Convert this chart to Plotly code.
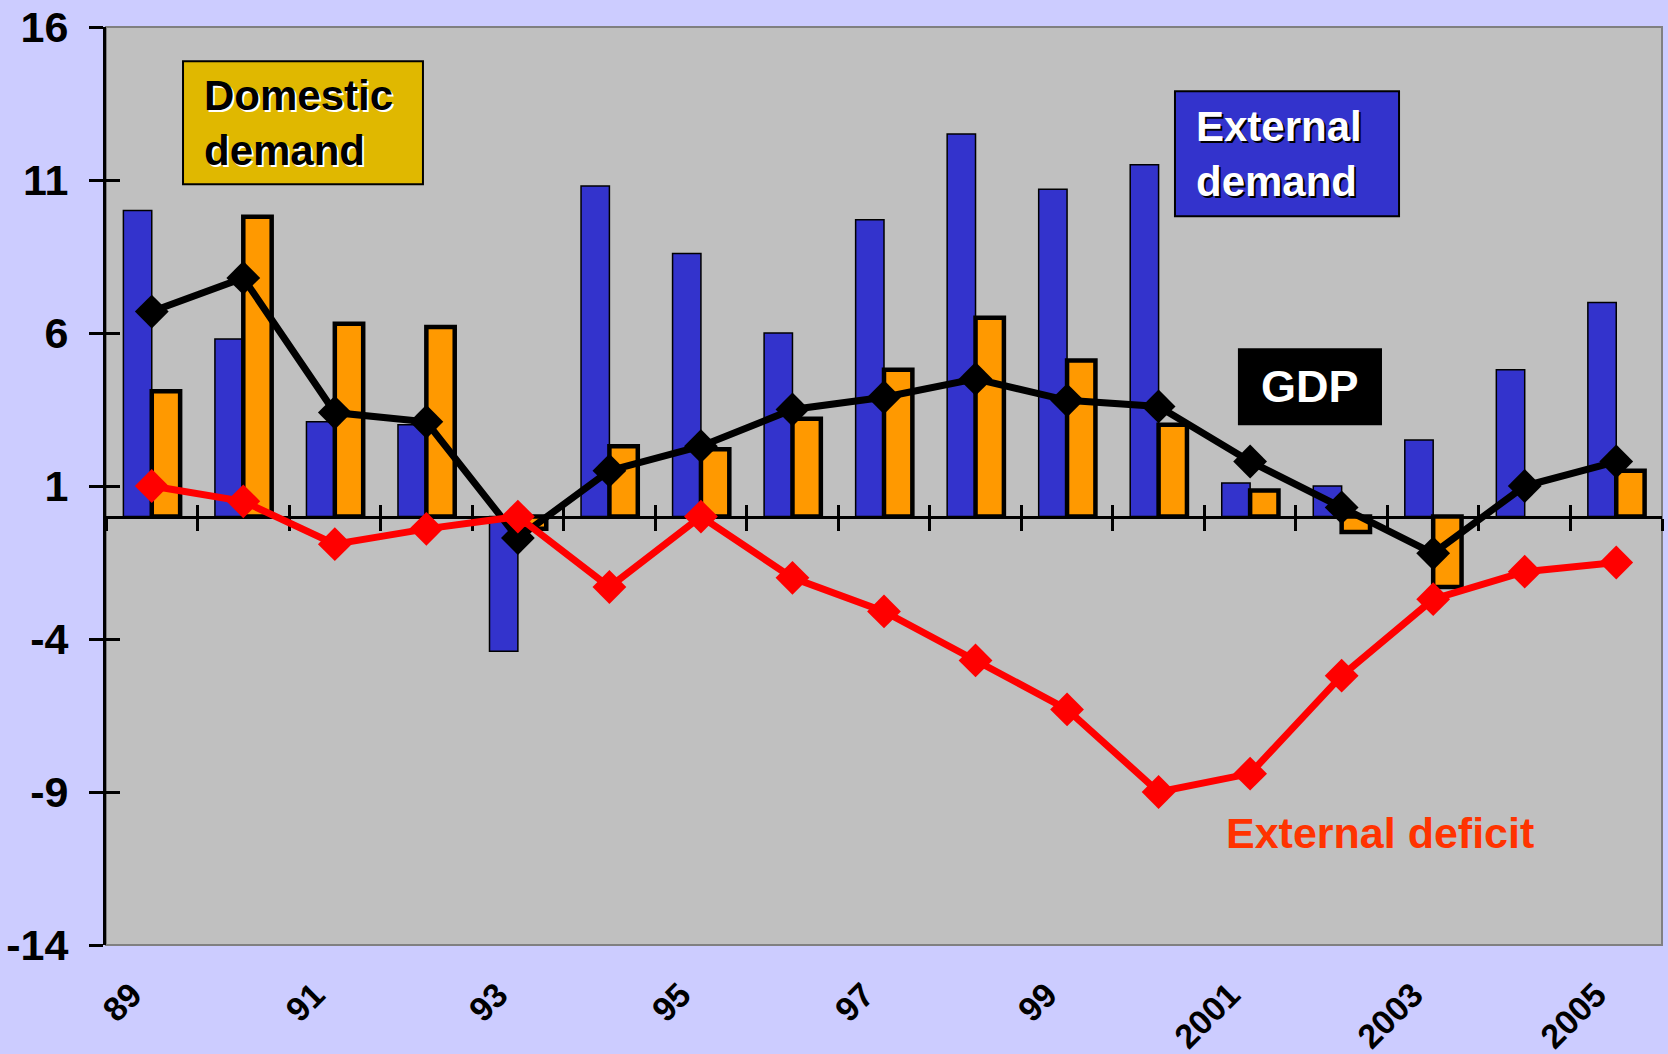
import plotly.graph_objects as go

# Years on the category axis (labels shown every other year)
years = ["89", "90", "91", "92", "93", "94", "95", "96", "97", "98", "99",
         "2000", "2001", "2002", "2003", "2004", "2005"]
year_labels = years[::2]

# Growth contributions, %
external_demand = [10.0, 5.8, 3.1, 3.0, -4.4, 10.8, 8.6, 6.0, 9.7, 12.5, 10.7,
                   11.5, 1.1, 1.0, 2.5, 4.8, 7.0]
domestic_demand = [4.1, 9.8, 6.3, 6.2, -0.4, 2.3, 2.2, 3.2, 4.8, 6.5, 5.1,
                   3.0, 0.85, -0.5, -2.3, None, 1.5]
gdp = [6.7, 7.8, 3.4, 3.1, -0.7, 1.5, 2.3, 3.5, 3.9, 4.5, 3.8,
       3.6, 1.8, 0.3, -1.2, 1.0, 1.8]
external_deficit = [1.0, 0.5, -0.9, -0.4, 0.0, -2.3, 0.0, -2.0, -3.1, -4.7, -6.3,
                    -9.0, -8.4, -5.2, -2.7, -1.8, -1.5]

y_ticks = [-14, -9, -4, 1, 6, 11, 16]
y_tick_text = ["-14", "-9", "-4", "1", "6", "11", "16"]
y_range = [-14, 16]

FONT = "Arial, Liberation Sans, sans-serif"
BLUE = "#3333CC"
ORANGE = "#FF9900"
GOLD = "#E0B800"
RED = "#FF0000"

fig = go.Figure()

fig.add_trace(go.Bar(
    x=years, y=external_demand, name="External demand",
    marker=dict(color=BLUE, line=dict(color="black", width=1.5)),
))
fig.add_trace(go.Bar(
    x=years, y=domestic_demand, name="Domestic demand",
    marker=dict(color=ORANGE, line=dict(color="black", width=4.5)),
))
fig.add_trace(go.Scatter(
    x=years, y=gdp, name="GDP", mode="lines+markers",
    line=dict(color="black", width=7),
    marker=dict(symbol="diamond", size=26, color="black"),
))
fig.add_trace(go.Scatter(
    x=years, y=external_deficit, name="External deficit", mode="lines+markers",
    line=dict(color=RED, width=7),
    marker=dict(symbol="diamond", size=26, color=RED),
))

# empty helper traces so the overlay axes (crossing tick marks) get drawn
fig.add_trace(go.Scatter(x=[], y=[], xaxis="x2", yaxis="y", showlegend=False, hoverinfo="skip"))
fig.add_trace(go.Scatter(x=[], y=[], xaxis="x3", yaxis="y", showlegend=False, hoverinfo="skip"))
fig.add_trace(go.Scatter(x=[], y=[], xaxis="x", yaxis="y2", showlegend=False, hoverinfo="skip"))

zero_pos = (0 - y_range[0]) / (y_range[1] - y_range[0])
n = len(years)

fig.update_layout(
    width=1668, height=1054,
    margin=dict(l=106, r=6, t=27, b=109),
    paper_bgcolor="#CCCCFF",
    plot_bgcolor="#C0C0C0",
    showlegend=False,
    barmode="group",
    bargap=0.38,
    bargroupgap=0.0,
    font=dict(family=FONT, color="black"),
    xaxis=dict(
        type="category", range=[-0.5, n - 0.5], automargin=False,
        tickmode="array", tickvals=year_labels, ticktext=year_labels,
        tickangle=-45, ticks="", showline=False, showgrid=False, zeroline=False,
        tickfont=dict(family=FONT, size=34, weight="bold", color="black"),
        ticklabelstandoff=22, ticklabelshift=-20,
    ),
    xaxis2=dict(
        overlaying="x", anchor="free", position=zero_pos, range=[-0.5, n - 0.5],
        automargin=False,
        tickmode="linear", tick0=-0.5, dtick=1,
        ticks="outside", ticklen=12, tickwidth=2.5, tickcolor="black",
        showticklabels=False, showgrid=False, zeroline=False,
        showline=True, linecolor="black", linewidth=3, layer="below traces",
    ),
    xaxis3=dict(
        overlaying="x", anchor="free", position=zero_pos, range=[-0.5, n - 0.5],
        automargin=False,
        tickmode="linear", tick0=-0.5, dtick=1,
        ticks="inside", ticklen=12, tickwidth=2.5, tickcolor="black",
        showticklabels=False, showgrid=False, zeroline=False, showline=False,
        layer="below traces",
    ),
    yaxis=dict(
        range=y_range, tickmode="array", tickvals=y_ticks, ticktext=y_tick_text,
        automargin=False,
        ticks="outside", ticklen=14, tickwidth=3, tickcolor="black",
        showline=True, linecolor="black", linewidth=3,
        showgrid=False, zeroline=False,
        tickfont=dict(family=FONT, size=43, weight="bold", color="black"),
        ticklabelstandoff=12,
    ),
    yaxis2=dict(
        overlaying="y", anchor="x", side="left", range=y_range, automargin=False,
        tickmode="array", tickvals=y_ticks,
        ticks="inside", ticklen=14, tickwidth=3, tickcolor="black",
        showticklabels=False, showgrid=False, zeroline=False, showline=False,
    ),
)

# thin grey frame round the plot area
fig.add_shape(type="rect", xref="paper", yref="paper", x0=0, x1=1, y0=0, y1=1,
              line=dict(color="#808080", width=2), layer="below")

# label boxes
boxes = [
    dict(x0=0.0495, x1=0.2037, y0=0.8287, y1=0.9626, fill=GOLD),
    dict(x0=0.6870, x1=0.8310, y0=0.7938, y1=0.9300, fill=BLUE),
    dict(x0=0.7281, x1=0.8194, y0=0.5672, y1=0.6489, fill="black"),
]
for b in boxes:
    fig.add_shape(type="rect", xref="paper", yref="paper",
                  x0=b["x0"], x1=b["x1"], y0=b["y0"], y1=b["y1"],
                  fillcolor=b["fill"], line=dict(color="black", width=2),
                  layer="above")

fig.add_annotation(
    xref="paper", yref="paper", x=0.0620, y=0.8956, xanchor="left", yanchor="middle",
    align="left", showarrow=False, text="Domestic<br>demand",
    font=dict(family=FONT, size=42, weight="bold", color="black",
              shadow="2px 2px 0px white"),
)
fig.add_annotation(
    xref="paper", yref="paper", x=0.6990, y=0.8619, xanchor="left", yanchor="middle",
    align="left", showarrow=False, text="External<br>demand",
    font=dict(family=FONT, size=42, weight="bold", color="white",
              shadow="2px 2px 0px black"),
)
fig.add_annotation(
    xref="paper", yref="paper", x=0.7738, y=0.6080, xanchor="center", yanchor="middle",
    showarrow=False, text="GDP",
    font=dict(family=FONT, size=45, weight="bold", color="white"),
)
fig.add_annotation(
    xref="paper", yref="paper", x=0.8188, y=0.1222, xanchor="center", yanchor="middle",
    showarrow=False, text="External deficit",
    font=dict(family=FONT, size=43, weight="bold", color="#FF3300"),
)

fig.write_html("out.html")
